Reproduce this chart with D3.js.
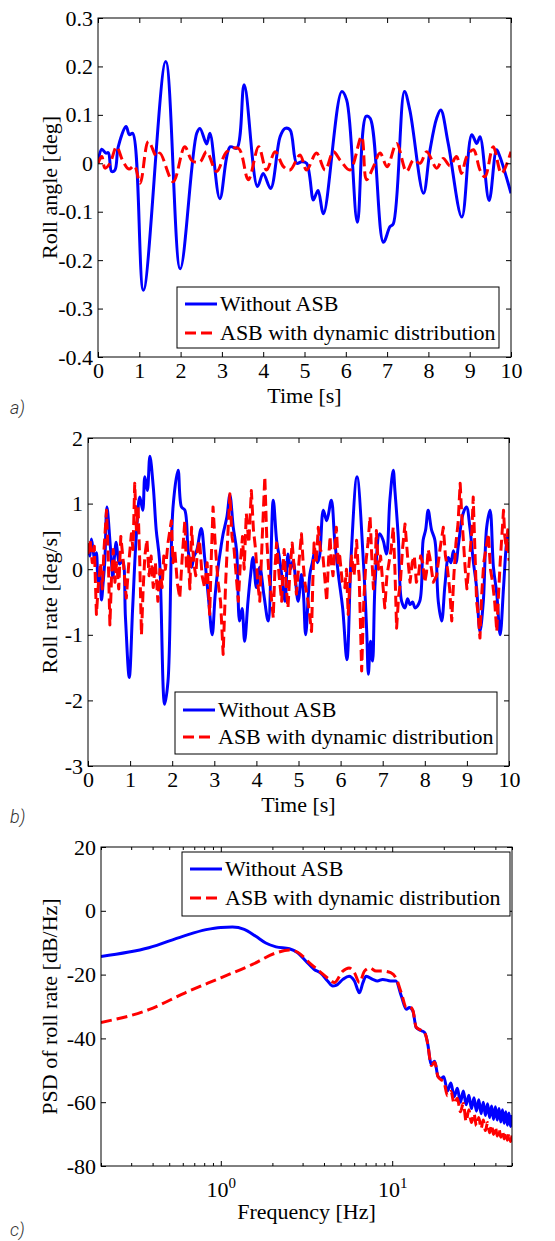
<!DOCTYPE html>
<html>
<head>
<meta charset="utf-8">
<script src="https://cdn.jsdelivr.net/npm/d3@7"></script>
<style>
  body { margin: 0; background: #fff; }
  svg text { font-family: "Liberation Serif", "Times New Roman", serif; }
  svg text.tag { font-family: Roboto, sans-serif; font-style: italic; font-weight: 300; fill: #333; }
</style>
</head>
<body>
<div id="chart"></div>
<script>
// ---- data ----
var legendNames = ['Without ASB', 'ASB with dynamic distribution'];

// a) roll angle [deg] vs time [s]
var rollAngleBlue = [[0,0],[0.09,0.029],[0.19,0.021],[0.25,0.022],[0.33,-0.017],[0.41,-0.014],[0.49,0.034],[0.68,0.076],[0.76,0.059],[0.84,0.062],
  [1.10,-0.262],[1.64,0.210],[1.99,-0.218],[2.39,0.062],[2.47,0.072],[2.63,0.04],[2.71,0.062],[2.95,-0.073],[3.2,0.034],[3.36,0.031],
  [3.54,0.162],[3.86,-0.048],[4.0,-0.021],[4.18,-0.052],[4.41,0.055],[4.53,0.072],[4.65,0.069],[4.81,0],[4.93,0.003],[5.05,0],
  [5.21,-0.076],[5.25,-0.07],[5.33,-0.056],[5.46,-0.104],[5.9,0.148],[6.02,0.131],[6.28,-0.122],[6.49,0.097],[6.59,0.093],[6.91,-0.163],
  [7.07,-0.131],[7.15,-0.125],[7.42,0.148],[7.55,0.11],[7.88,-0.062],[8.04,0.028],[8.2,0.093],[8.3,0.11],[8.48,0.041],[8.81,-0.111],
  [9.05,0.059],[9.17,0.041],[9.25,0.055],[9.47,-0.077],[9.65,0.028],[9.73,0.014],[10,-0.062]];
var rollAngleRed = [[0,0],[0.09,0.014],[0.17,-0.01],[0.29,0],[0.45,0.034],[0.6,0.005],[0.75,-0.012],[0.88,-0.005],[1.02,-0.041],[1.22,0.045],
  [1.42,0.014],[1.5,0.021],[1.82,-0.038],[2.1,0.034],[2.28,0.005],[2.47,0.003],[2.63,0.024],[2.87,-0.017],[3.12,0.024],[3.4,0.031],
  [3.64,-0.034],[3.89,0.034],[4.08,-0.014],[4.29,0.024],[4.49,-0.007],[4.65,-0.014],[4.89,0.017],[5.05,-0.014],[5.29,0.021],[5.5,-0.014],
  [5.7,0.024],[5.86,0.007],[6.1,-0.014],[6.38,0.055],[6.5,-0.034],[6.67,-0.007],[6.83,0.021],[7.0,-0.007],[7.23,0.041],[7.47,-0.017],
  [7.64,0.007],[7.8,0],[7.96,0.024],[8.2,-0.01],[8.36,0.01],[8.52,-0.005],[8.68,0.014],[8.8,-0.021],[8.93,0.014],[9.09,0.028],
  [9.25,-0.014],[9.37,-0.028],[9.57,0.034],[9.77,-0.021],[10,0.024]];
var timeTicks = [0,1,2,3,4,5,6,7,8,9,10];
var angleTicks = [-0.4,-0.3,-0.2,-0.1,0,0.1,0.2,0.3];
var angleTickLabels = ['-0.4','-0.3','-0.2','-0.1','0','0.1','0.2','0.3'];

// b) roll rate [deg/s] vs time [s]
var rollRateBlue = [[0,0.38],[0.04,0.2],[0.08,0.46],[0.12,0.3],[0.16,0.13],[0.2,0.25],[0.24,-0.18],[0.28,-0.05],[0.32,-0.47],[0.36,-0.2],
  [0.4,0.13],[0.45,0.95],[0.52,0.44],[0.56,0.1],[0.59,-0.13],[0.63,0.2],[0.67,0.41],[0.71,0.2],[0.75,0.08],[0.82,0.13],
  [0.89,-0.74],[0.98,-1.65],[1.06,-0.6],[1.15,0.54],[1.23,1.1],[1.3,0.9],[1.35,1.41],[1.41,1.2],[1.47,1.72],[1.55,1.26],
  [1.62,0.6],[1.7,0.13],[1.82,-2.06],[1.9,-1.71],[2.02,0.95],[2.14,1.51],[2.22,0.95],[2.3,0.9],[2.38,0.28],[2.46,0.03],
  [2.52,0.2],[2.58,0.28],[2.69,0.62],[2.77,0.18],[2.87,-0.5],[2.95,-1.0],[3.02,-0.4],[3.09,0.03],[3.15,0.3],[3.21,0.54],
  [3.3,0.8],[3.37,1.13],[3.45,0.64],[3.53,0.28],[3.6,-0.79],[3.66,-0.6],[3.72,-1.1],[3.8,-0.49],[3.86,-0.1],[3.92,0.18],
  [4.0,-0.28],[4.08,0.03],[4.18,-0.4],[4.28,-0.79],[4.4,1.05],[4.48,0.44],[4.54,0.2],[4.6,-0.08],[4.68,-0.49],[4.75,0.23],
  [4.81,0.0],[4.87,0.13],[4.99,-0.49],[5.07,-0.08],[5.12,-0.4],[5.17,-1.0],[5.27,-0.08],[5.33,0.1],[5.39,0.28],[5.45,0.1],
  [5.5,0.2],[5.59,0.9],[5.67,0.74],[5.78,1.05],[5.86,0.44],[5.95,-0.1],[6.05,-0.6],[6.15,-1.38],[6.25,0.2],[6.39,1.41],
  [6.54,0.13],[6.62,-0.95],[6.66,-1.6],[6.71,-1.1],[6.76,-1.4],[6.82,-0.2],[6.93,0.54],[7.01,0.44],[7.09,0.23],[7.17,1.05],
  [7.25,1.51],[7.29,1.2],[7.37,0.49],[7.45,-0.49],[7.53,-0.59],[7.59,-0.45],[7.65,-0.54],[7.71,-0.5],[7.77,-0.59],[7.88,-0.49],
  [7.96,0.44],[8.02,0.6],[8.08,0.9],[8.16,0.6],[8.24,0.44],[8.32,-0.49],[8.4,-0.79],[8.48,-0.23],[8.56,0.18],[8.62,0.1],
  [8.68,0.28],[8.74,0.1],[8.8,0.38],[8.91,0.85],[8.99,0.95],[9.07,0.64],[9.15,0.13],[9.23,-0.28],[9.31,-0.95],[9.39,-0.49],
  [9.47,0.64],[9.55,0.9],[9.63,0.03],[9.71,-0.38],[9.79,-1.0],[9.87,-0.28],[9.94,0.38],[10,0.59]];
var rollRateRed = [[0,0.23],[0.05,0.45],[0.1,0.1],[0.15,0.35],[0.2,-0.69],[0.25,-0.2],[0.3,0.1],[0.34,-0.3],[0.38,0.3],[0.44,0.9],
  [0.48,0.2],[0.52,-0.85],[0.56,-0.1],[0.6,0.3],[0.64,-0.2],[0.68,0.1],[0.73,-0.3],[0.78,0.5],[0.84,0.1],[0.91,-0.44],
  [0.97,0.1],[1.03,0.54],[1.07,0.3],[1.11,1.31],[1.15,0.6],[1.19,0.95],[1.23,0.1],[1.27,-1.0],[1.31,-0.3],[1.35,0.2],
  [1.4,0.45],[1.45,-0.1],[1.5,0.2],[1.55,-0.28],[1.6,0.1],[1.66,-0.49],[1.71,0.0],[1.76,-0.28],[1.8,0.2],[1.84,0.0],
  [1.9,0.4],[1.98,0.74],[2.02,0.1],[2.06,0.3],[2.12,-0.2],[2.18,-0.44],[2.24,0.2],[2.3,0.74],[2.34,0.0],[2.38,0.2],
  [2.42,-0.3],[2.46,0.64],[2.51,0.1],[2.56,-0.1],[2.6,0.3],[2.65,0.44],[2.71,-0.1],[2.77,-0.28],[2.83,0.1],[2.89,-0.69],
  [2.93,0.2],[2.97,0.95],[3.03,0.3],[3.09,-0.2],[3.15,-0.5],[3.21,-1.3],[3.27,-0.2],[3.32,0.5],[3.37,1.15],[3.42,0.5],
  [3.47,0.3],[3.52,-0.1],[3.57,-0.49],[3.62,0.1],[3.67,0.5],[3.71,0.0],[3.76,0.85],[3.82,0.4],[3.88,1.2],[3.93,0.6],
  [3.98,0.3],[4.03,-0.2],[4.08,-0.49],[4.14,0.5],[4.2,1.41],[4.25,0.4],[4.3,-0.1],[4.35,-0.4],[4.4,-0.74],[4.44,0.0],
  [4.48,0.4],[4.54,-0.1],[4.6,-0.49],[4.63,0.0],[4.66,0.3],[4.7,-0.2],[4.75,-0.59],[4.8,0.0],[4.85,0.4],[4.9,0.0],
  [4.95,-0.38],[5.01,0.1],[5.07,0.54],[5.11,0.1],[5.15,-0.2],[5.23,-0.5],[5.31,-0.95],[5.34,-0.2],[5.37,0.4],[5.42,0.1],
  [5.47,0.64],[5.52,0.3],[5.58,0.2],[5.62,-0.1],[5.67,-0.49],[5.71,0.1],[5.75,0.5],[5.78,0.1],[5.82,-0.1],[5.86,0.3],
  [5.9,0.64],[5.94,0.1],[5.98,0.2],[6.04,-0.2],[6.1,-0.28],[6.14,0.0],[6.18,-0.69],[6.22,-0.2],[6.26,0.2],[6.32,-0.1],
  [6.38,0.44],[6.41,0.1],[6.44,-0.1],[6.47,-0.8],[6.5,-1.55],[6.55,-0.5],[6.6,0.1],[6.65,0.4],[6.7,0.8],[6.74,0.2],
  [6.78,-0.3],[6.82,0.1],[6.85,0.59],[6.9,0.0],[6.95,0.2],[7.0,-0.2],[7.05,-0.59],[7.1,-0.1],[7.15,0.1],[7.2,0.3],
  [7.25,0.64],[7.29,0.0],[7.33,-0.9],[7.38,-0.4],[7.42,-0.2],[7.47,0.3],[7.53,0.69],[7.59,0.2],[7.65,-0.2],[7.7,0.1],
  [7.75,0.2],[7.8,-0.2],[7.85,-0.1],[7.9,0.2],[7.95,0.1],[8.0,-0.2],[8.04,-0.05],[8.08,0.3],[8.12,0.18],[8.2,-0.2],
  [8.28,-0.1],[8.36,0.3],[8.44,0.64],[8.49,0.2],[8.54,0.0],[8.59,-0.3],[8.64,-0.79],[8.69,-0.1],[8.74,0.4],[8.79,0.7],
  [8.84,1.31],[8.88,0.8],[8.92,0.4],[8.96,0.0],[9.0,-0.3],[9.04,0.0],[9.08,0.3],[9.12,0.6],[9.15,1.1],[9.19,0.3],
  [9.23,-0.49],[9.27,-0.7],[9.31,-1.05],[9.35,-0.4],[9.4,0.1],[9.45,0.3],[9.51,0.54],[9.56,0.0],[9.61,-0.2],[9.66,-0.5],
  [9.71,-0.95],[9.75,-0.4],[9.79,0.1],[9.83,0.5],[9.87,0.9],[9.9,0.5],[9.94,0.3],[9.97,0.6],[10,0.13]];
var rateTicks = [-3,-2,-1,0,1,2];
var rateTickLabels = ['-3','-2','-1','0','1','2'];

// c) PSD of roll rate [dB/Hz] vs frequency [Hz]
var psdBlue = [[0.2,-14.3],[0.38,-11.6],[0.6,-8.0],[0.82,-5.9],[1.0,-5.2],[1.17,-5.1],[1.37,-5.8],[1.6,-8.0],[1.83,-10.1],[2.1,-11.3],
  [2.51,-11.9],[2.81,-13.2],[3.14,-15.8],[3.51,-18.4],[3.84,-19.6],[4.2,-22.0],[4.5,-23.6],[4.7,-23.4],[5.15,-21.5],[5.6,-20.5],
  [6.02,-22.0],[6.44,-25.7],[6.75,-22.5],[7.05,-20.5],[7.7,-21.5],[8.2,-22.0],[8.8,-21.5],[9.8,-22.0],[10.5,-22.0],[11.3,-26.7],
  [12.1,-30.9],[12.6,-30.3],[13.2,-31.4],[13.8,-36.6],[14.8,-37.6],[15.4,-38.1],[16.2,-42.4],[16.6,-46.6],[16.9,-48.2],[17.7,-47.2],
  [18.5,-51.9],[19.3,-52.6],[20,-52.0],[21,-56.5],[22,-54.0],[23,-58.3],[24,-55.6],[25,-60.0],[26,-56.5],[27,-60.8],
  [28,-57.8],[29,-62.0],[30,-58.6],[31,-62.8],[32,-59.2],[33,-63.6],[34,-60.0],[35,-64.2],[36,-60.5],[37,-64.8],
  [38,-61.2],[39,-65.4],[40,-61.4],[41,-65.6],[42,-62.0],[43,-66.2],[44,-62.4],[45,-66.6],[46,-63.0],[47,-67.2],
  [48,-63.4],[49,-67.6],[50,-64.0]];
var psdRed = [[0.2,-35.0],[0.38,-31.0],[0.62,-25.7],[1.0,-21.0],[1.53,-16.8],[2.1,-13.2],[2.51,-12.3],[2.81,-13.0],[3.29,-16.3],[3.75,-18.9],
  [4.3,-21.5],[4.6,-22.5],[5.15,-18.9],[5.6,-17.9],[6.02,-19.4],[6.44,-22.5],[6.89,-18.9],[7.4,-17.9],[8.05,-18.9],[8.8,-18.9],
  [9.8,-19.4],[10.5,-21.0],[11.3,-25.7],[12.1,-30.3],[12.6,-30.0],[13.2,-31.2],[13.8,-36.5],[14.8,-37.5],[15.4,-38.0],[16.2,-42.5],
  [16.6,-46.5],[16.9,-48.5],[17.7,-47.5],[18.5,-52.0],[19.3,-53.0],[20,-53.5],[21,-58.0],[22,-56.6],[23,-60.4],[24,-58.8],
  [25,-63.0],[26,-60.4],[27,-66.0],[28,-62.4],[29,-66.4],[30,-63.6],[31,-67.4],[32,-64.8],[33,-68.2],[34,-65.6],
  [35,-68.9],[36,-66.4],[37,-69.6],[38,-67.2],[39,-70.1],[40,-67.8],[41,-70.6],[42,-68.4],[43,-71.0],[44,-69.0],
  [45,-71.5],[46,-69.4],[47,-71.9],[48,-69.8],[49,-72.3],[50,-70.4]];
var freqMajorTicks = [1, 10];
var freqMinorTicks = [0.2,0.3,0.4,0.5,0.6,0.7,0.8,0.9,2,3,4,5,6,7,8,9,20,30,40,50];
var psdTicks = [-80,-60,-40,-20,0,20];
var psdTickLabels = ['-80','-60','-40','-20','0','20'];

// ---- drawing ----
var FONT = 'Liberation Serif, Times New Roman, serif';
var svg = d3.select('#chart').append('svg')
  .attr('width', 555).attr('height', 1241);

var BLUE = '#0000ff', RED = '#ff0000';
var DASH = '11,5';

function drawPanel(p) {
  var g = svg.append('g');
  var x = p.x, y = p.y;
  var l = x.range()[0], r = x.range()[1], b = y.range()[0], t = y.range()[1];

  // Clip the series to the plot box
  var clipId = 'clip' + p.id;
  g.append('clipPath').attr('id', clipId)
    .append('rect').attr('x', l).attr('y', t).attr('width', r - l).attr('height', b - t);

  var lines = g.append('g').attr('clip-path', 'url(#' + clipId + ')');
  p.series.forEach(function(s) {
    var line = d3.line()
      .x(function(d) { return x(d[0]); })
      .y(function(d) { return y(d[1]); })
      .curve(s.curve);
    lines.append('path')
      .datum(s.data)
      .attr('d', line)
      .attr('fill', 'none')
      .attr('stroke', s.color)
      .attr('stroke-width', 3)
      .attr('stroke-linejoin', 'round')
      .attr('stroke-dasharray', s.dash || null);
  });

  // Axes, ticks pointing inward on all four sides
  var xb = d3.axisBottom(x).tickValues(p.xTicks).tickSize(-5).tickPadding(p.xPad).tickFormat(p.xFormat);
  var xt = d3.axisTop(x).tickValues(p.xTicks).tickSize(-5).tickFormat('');
  var yl = d3.axisLeft(y).tickValues(p.yTicks).tickSize(-5).tickPadding(5)
    .tickFormat(function(d, i) { return p.yLabels[i]; });
  var yr = d3.axisRight(y).tickValues(p.yTicks).tickSize(-5).tickFormat('');

  function style(sel) {
    sel.attr('font-family', FONT).attr('font-size', 22);
    sel.select('.domain').remove();
    sel.selectAll('.tick line').attr('stroke', '#000');
    sel.selectAll('.tick text').attr('fill', '#000')
      .style('font-family', FONT).style('font-size', '22px');
  }
  var gxb = g.append('g').attr('transform', 'translate(0,' + b + ')').call(xb).call(style);
  g.append('g').attr('transform', 'translate(0,' + t + ')').call(xt).call(style);
  g.append('g').attr('transform', 'translate(' + l + ',0)').call(yl).call(style);
  g.append('g').attr('transform', 'translate(' + r + ',0)').call(yr).call(style);

  if (p.minorTicks) {
    var mb = d3.axisBottom(x).tickValues(p.minorTicks).tickSize(-3).tickFormat('');
    var mt = d3.axisTop(x).tickValues(p.minorTicks).tickSize(-3).tickFormat('');
    g.append('g').attr('transform', 'translate(0,' + b + ')').call(mb).call(style);
    g.append('g').attr('transform', 'translate(0,' + t + ')').call(mt).call(style);
  }
  if (p.afterX) p.afterX(gxb);

  // Frame
  g.append('rect')
    .attr('x', l).attr('y', t).attr('width', r - l).attr('height', b - t)
    .attr('fill', 'none').attr('stroke', '#000').attr('stroke-width', 1);

  // Axis titles
  g.append('text')
    .attr('x', (l + r) / 2).attr('y', b + p.xTitleDy)
    .attr('text-anchor', 'middle').attr('font-size', 22)
    .text(p.xTitle);
  g.append('text')
    .attr('transform', 'translate(57,' + ((t + b) / 2) + ') rotate(-90)')
    .attr('text-anchor', 'middle').attr('font-size', 22)
    .text(p.yTitle);

  // Panel tag a) b) c)
  g.append('text').attr('class', 'tag')
    .attr('x', 10).attr('y', p.tagY).attr('font-size', 18)
    .text(p.tag);

  // Legend
  var L = p.legend;
  var lg = g.append('g');
  lg.append('rect')
    .attr('x', L.x).attr('y', L.y).attr('width', L.w).attr('height', L.h)
    .attr('fill', '#fff').attr('stroke', '#000').attr('stroke-width', 1);
  p.series.forEach(function(s, i) {
    var ly = L.rows[i];
    lg.append('line')
      .attr('x1', L.x + 8).attr('x2', L.x + 40)
      .attr('y1', ly).attr('y2', ly)
      .attr('stroke', s.color).attr('stroke-width', 3)
      .attr('stroke-dasharray', s.dash || null);
    lg.append('text')
      .attr('x', L.x + 43).attr('y', ly).attr('dy', '0.33em')
      .attr('font-size', 22)
      .text(legendNames[i]);
  });
}

// a)
drawPanel({
  id: 'a',
  x: d3.scaleLinear().domain([0, 10]).range([98, 511]),
  y: d3.scaleLinear().domain([-0.4, 0.3]).range([357, 18]),
  xTicks: timeTicks, xPad: 5.5, xFormat: d3.format('d'),
  yTicks: angleTicks, yLabels: angleTickLabels,
  series: [
    { data: rollAngleBlue, color: BLUE, curve: d3.curveCatmullRom },
    { data: rollAngleRed, color: RED, dash: DASH, curve: d3.curveCatmullRom }
  ],
  xTitle: 'Time [s]', xTitleDy: 46,
  yTitle: 'Roll angle [deg]',
  tag: 'a)', tagY: 414,
  legend: { x: 177, y: 287, w: 322, h: 61, rows: [304, 333] }
});

// b)
drawPanel({
  id: 'b',
  x: d3.scaleLinear().domain([0, 10]).range([88, 509]),
  y: d3.scaleLinear().domain([-3, 2]).range([766, 438]),
  xTicks: timeTicks, xPad: 5.5, xFormat: d3.format('d'),
  yTicks: rateTicks, yLabels: rateTickLabels,
  series: [
    { data: rollRateBlue, color: BLUE, curve: d3.curveCatmullRom },
    { data: rollRateRed, color: RED, dash: DASH, curve: d3.curveLinear }
  ],
  xTitle: 'Time [s]', xTitleDy: 46,
  yTitle: 'Roll rate [deg/s]',
  tag: 'b)', tagY: 823,
  legend: { x: 175, y: 692, w: 322, h: 62, rows: [710, 737] }
});

// c)
drawPanel({
  id: 'c',
  x: d3.scaleLog().domain([0.2, 50]).range([101, 512]),
  y: d3.scaleLinear().domain([-80, 20]).range([1166, 847]),
  xTicks: freqMajorTicks, xPad: 15, xFormat: function() { return ''; },
  minorTicks: freqMinorTicks,
  afterX: function(gx) {
    gx.selectAll('.tick text').each(function(d) {
      var tx = d3.select(this);
      tx.append('tspan').text('10');
      tx.append('tspan').style('font-size', '15px').attr('dy', '-0.55em').text(Math.round(Math.log10(d)));
    });
  },
  yTicks: psdTicks, yLabels: psdTickLabels,
  series: [
    { data: psdBlue, color: BLUE, curve: d3.curveMonotoneX },
    { data: psdRed, color: RED, dash: DASH, curve: d3.curveMonotoneX }
  ],
  xTitle: 'Frequency [Hz]', xTitleDy: 53,
  yTitle: 'PSD of roll rate [dB/Hz]',
  tag: 'c)', tagY: 1236,
  legend: { x: 182, y: 852, w: 328, h: 64, rows: [869, 898] }
});
</script>
</body>
</html>
